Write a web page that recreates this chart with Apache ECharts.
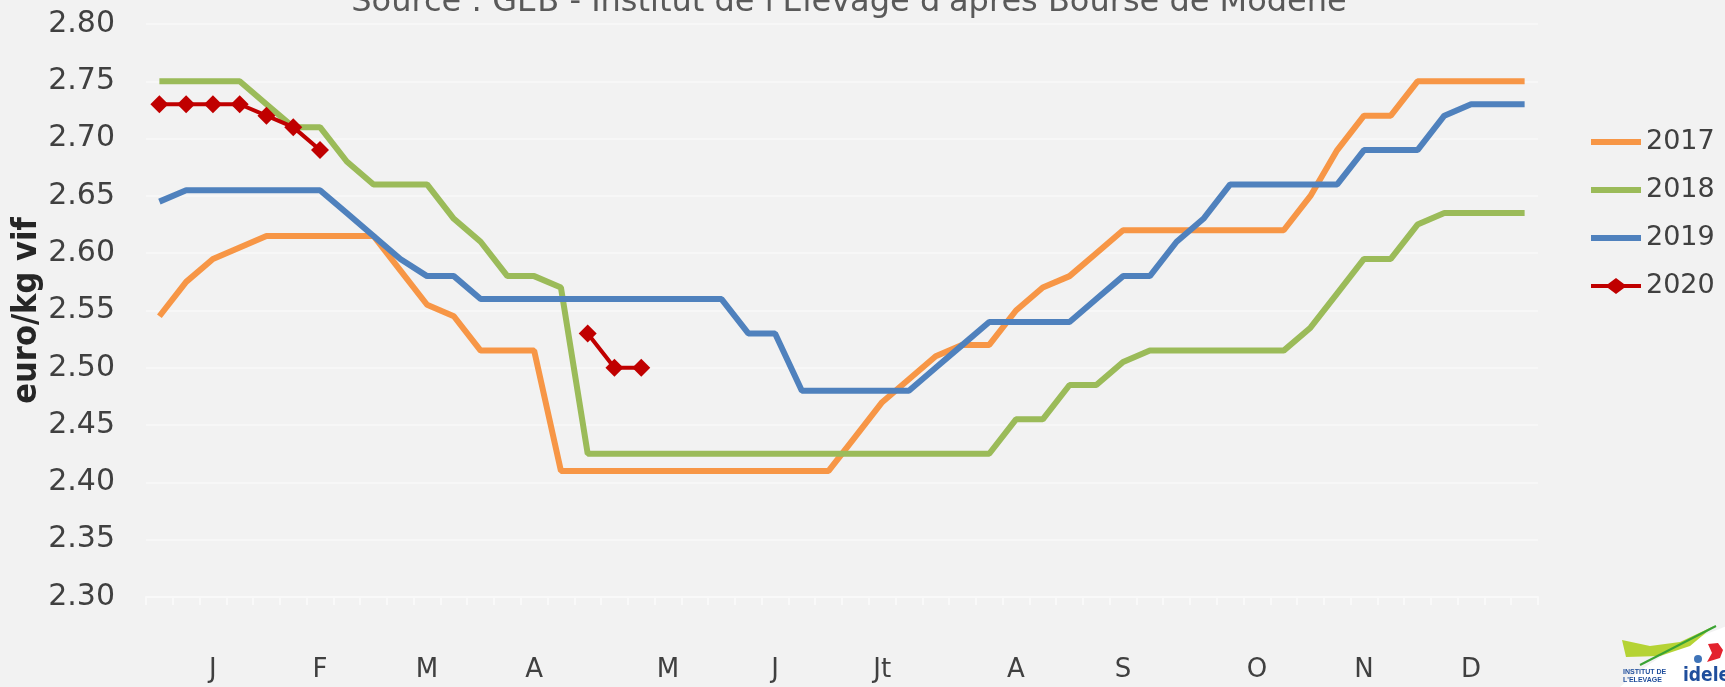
<!DOCTYPE html>
<html>
<head>
<meta charset="utf-8">
<script src="https://cdn.jsdelivr.net/npm/echarts@6/dist/echarts.min.js"></script>
<style>
  html, body { margin: 0; padding: 0; background: #f2f2f2; }
  #chart { width: 1725px; height: 687px; }
</style>
</head>
<body>
<div id="chart"></div>
<script>
// weekly categories, month letters shown under some weeks
const weeks = Array.from({ length: 52 }, (_, i) => 'S' + (i + 1))
const monthNames = ['J', 'F', 'M', 'A', 'M', 'J', 'Jt', 'A', 'S', 'O', 'N', 'D']
const monthWeeks = [2, 6, 10, 14, 19, 23, 27, 32, 36, 41, 45, 49]
const yTicks = [2.30, 2.80, 0.05] // min, max, step

const y2017 = [2.545, 2.575, 2.595, 2.605, 2.615, 2.615, 2.615, 2.615, 2.615, 2.585,
  2.555, 2.545, 2.515, 2.515, 2.515, 2.41, 2.41, 2.41, 2.41, 2.41,
  2.41, 2.41, 2.41, 2.41, 2.41, 2.41, 2.44, 2.47, 2.49, 2.51,
  2.52, 2.52, 2.55, 2.57, 2.58, 2.60, 2.62, 2.62, 2.62, 2.62,
  2.62, 2.62, 2.62, 2.65, 2.69, 2.72, 2.72, 2.75, 2.75, 2.75,
  2.75, 2.75]
const y2018 = [2.75, 2.75, 2.75, 2.75, 2.73, 2.71, 2.71, 2.68, 2.66, 2.66,
  2.66, 2.63, 2.61, 2.58, 2.58, 2.57, 2.425, 2.425, 2.425, 2.425,
  2.425, 2.425, 2.425, 2.425, 2.425, 2.425, 2.425, 2.425, 2.425, 2.425,
  2.425, 2.425, 2.455, 2.455, 2.485, 2.485, 2.505, 2.515, 2.515, 2.515,
  2.515, 2.515, 2.515, 2.535, 2.565, 2.595, 2.595, 2.625, 2.635, 2.635,
  2.635, 2.635]
const y2019 = [2.645, 2.655, 2.655, 2.655, 2.655, 2.655, 2.655, 2.635, 2.615, 2.595,
  2.58, 2.58, 2.56, 2.56, 2.56, 2.56, 2.56, 2.56, 2.56, 2.56,
  2.56, 2.56, 2.53, 2.53, 2.48, 2.48, 2.48, 2.48, 2.48, 2.50,
  2.52, 2.54, 2.54, 2.54, 2.54, 2.56, 2.58, 2.58, 2.61, 2.63,
  2.66, 2.66, 2.66, 2.66, 2.66, 2.69, 2.69, 2.69, 2.72, 2.73,
  2.73, 2.73]
const y2020 = [2.73, 2.73, 2.73, 2.73, 2.72, 2.71, 2.69, null, null, null,
  null, null, null, null, null, null, 2.53, 2.50, 2.50]

const txt = '#404040'
const gridCol = '#f9f9f9'

// legend icons: thick bar, and bar with a diamond for 2020
const barIcon = 'path://M0,0 M0,5 L50,5 L50,11 L0,11 Z M0,16'
const diamondIcon = 'path://M0,0 M0,6 L17,6 L25,0 L33,6 L50,6 L50,10 L33,10 L25,16 L17,10 L0,10 Z M0,16'

const chart = echarts.init(document.getElementById('chart'))

function yearLine(name, data, color) {
  return {
    name: name,
    type: 'line',
    data: data,
    symbol: 'none',
    color: color,
    lineStyle: { width: 6, color: color },
    z: 2
  }
}

chart.setOption({
  backgroundColor: '#f2f2f2',
  animation: false,
  textStyle: { fontFamily: 'DejaVu Sans' },
  grid: {
    left: 146,
    right: 187,
    top: 24,
    bottom: 90,
    containLabel: false,
    outerBoundsMode: 'none'
  },
  legend: {
    orient: 'vertical',
    left: 1586,
    top: 122,
    itemWidth: 50,
    itemHeight: 16,
    itemGap: 18,
    symbolKeepAspect: true,
    textStyle: { fontSize: 27, color: txt, lineHeight: 30 },
    data: [
      { name: '2017', icon: barIcon },
      { name: '2018', icon: barIcon },
      { name: '2019', icon: barIcon },
      { name: '2020', icon: diamondIcon }
    ]
  },
  xAxis: {
    type: 'category',
    data: weeks,
    boundaryGap: true,
    axisLine: { lineStyle: { color: gridCol, width: 2 } },
    axisTick: { show: true, interval: 0, length: 8, lineStyle: { color: gridCol, width: 2 } },
    axisLabel: {
      interval: 0,
      margin: 60,
      fontSize: 26,
      color: txt,
      formatter: (v, i) => {
        const k = monthWeeks.indexOf(i)
        return k >= 0 ? monthNames[k] : ''
      }
    },
    splitLine: { show: false }
  },
  yAxis: {
    type: 'value',
    min: yTicks[0],
    max: yTicks[1],
    interval: yTicks[2],
    name: 'euro/kg vif',
    nameLocation: 'middle',
    nameRotate: 90,
    nameGap: 102,
    nameMoveOverlap: false,
    nameTextStyle: {
      fontSize: 34,
      fontWeight: 'bold',
      fontFamily: 'DejaVu Sans Condensed',
      color: '#262626'
    },
    axisLine: { show: false },
    axisTick: { show: false },
    axisLabel: {
      margin: 31,
      fontSize: 30,
      color: txt,
      formatter: v => v.toFixed(2)
    },
    splitLine: { lineStyle: { color: gridCol, width: 1.5 } }
  },
  series: [
    yearLine('2017', y2017, '#F79646'),
    yearLine('2018', y2018, '#9BBB59'),
    yearLine('2019', y2019, '#4F81BD'),
    {
      name: '2020',
      type: 'line',
      data: y2020,
      color: '#C00000',
      symbol: 'diamond',
      symbolSize: 18,
      showSymbol: true,
      connectNulls: false,
      lineStyle: { width: 4, color: '#C00000' },
      itemStyle: { color: '#C00000' },
      z: 3
    }
  ],
  graphic: [
    {
      type: 'text',
      x: 849,
      y: 3,
      style: {
        text: "Source : GEB - Institut de l'Elevage d'après Bourse de Modène",
        fontSize: 32,
        fontFamily: 'DejaVu Sans',
        fill: '#595959',
        align: 'center',
        verticalAlign: 'middle'
      }
    },
    // idele logo, bottom right
    {
      type: 'ellipse',
      x: 1750, y: 705, rotation: 0.35,
      shape: { cx: 0, cy: 0, rx: 175, ry: 82 },
      style: { fill: '#ffffff' }
    },
    {
      type: 'polygon',
      shape: { points: [[1622, 640], [1650, 646], [1680, 642], [1714, 626], [1690, 646], [1660, 656], [1626, 657]] },
      style: { fill: '#b5d334' }
    },
    {
      type: 'line',
      shape: { x1: 1640, y1: 665, x2: 1716, y2: 626 },
      style: { stroke: '#3aa335', lineWidth: 2 }
    },
    {
      type: 'polygon',
      shape: { points: [[1708, 644], [1718, 643], [1723, 650], [1720, 658], [1707, 662], [1712, 653]] },
      style: { fill: '#e3232e' }
    },
    {
      type: 'circle',
      shape: { cx: 1698, cy: 659, r: 4 },
      style: { fill: '#3f74b8' }
    },
    {
      type: 'text',
      x: 1683, y: 676,
      style: {
        text: 'idele', fontSize: 19, fontWeight: 'bold', fontFamily: 'DejaVu Sans Condensed',
        fill: '#1f4e9c', verticalAlign: 'middle'
      }
    },
    {
      type: 'text',
      x: 1623, y: 676,
      style: {
        text: "INSTITUT DE\nL'ELEVAGE", fontSize: 7, fontWeight: 'bold', lineHeight: 8,
        fill: '#1f4e9c', verticalAlign: 'middle'
      }
    }
  ]
})
</script>
</body>
</html>
